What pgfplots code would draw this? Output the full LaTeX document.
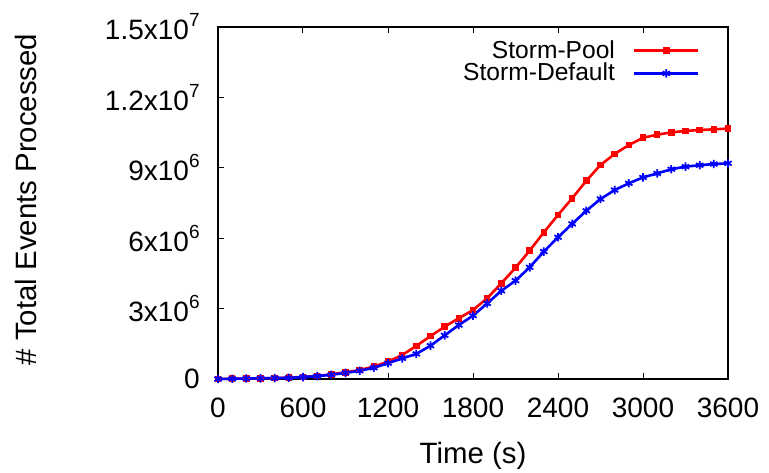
\documentclass[border=0pt]{standalone}
\usepackage{fontspec}
\setmainfont{Liberation Sans}
\usepackage{pgfplots}
\usepackage{pgfplotstable}
\pgfplotsset{compat=1.18}

% time (s), events processed
\pgfplotstableread{
t     pool      default
0     0         0
100   1e4       1e4
200   2e4       2e4
300   3e4       3e4
400   4e4       4e4
500   6e4       5e4
600   9e4       8e4
700   1.3e5     1.2e5
800   2.0e5     1.8e5
900   2.9e5     2.6e5
1000  3.8e5     3.5e5
1100  5.3e5     4.8e5
1200  7.4e5     6.7e5
1300  1.02e6    8.8e5
1400  1.41e6    1.07e6
1500  1.83e6    1.42e6
1600  2.23e6    1.86e6
1700  2.59e6    2.30e6
1800  2.94e6    2.70e6
1900  3.44e6    3.22e6
2000  4.08e6    3.76e6
2100  4.74e6    4.19e6
2200  5.47e6    4.76e6
2300  6.25e6    5.43e6
2400  6.99e6    6.04e6
2500  7.70e6    6.61e6
2600  8.45e6    7.17e6
2700  9.12e6    7.67e6
2800  9.59e6    8.05e6
2900  9.97e6    8.34e6
3000  1.028e7   8.59e6
3100  1.041e7   8.76e6
3200  1.051e7   8.94e6
3300  1.057e7   9.05e6
3400  1.061e7   9.11e6
3500  1.064e7   9.16e6
3600  1.067e7   9.19e6
}\events

\newcommand\ex[1]{\raisebox{6.5pt}{\fontsize{9.5}{9.5}\selectfont #1}}

\begin{document}
\begin{tikzpicture}
\begin{axis}[
    at={(0,0)}, anchor=south west,
    scale only axis,
    width=255pt, height=176pt,
    xmin=0, xmax=3600,
    ymin=0, ymax=1.5e7,
    xtick={0,600,...,3600},
    ytick={0,3e6,6e6,9e6,1.2e7,1.5e7},
    yticklabels={0,3x10\ex{6},6x10\ex{6},9x10\ex{6},1.2x10\ex{7},1.5x10\ex{7}},
    scaled ticks=false,
    xtick pos=both, ytick pos=left,
    xticklabel pos=lower,
    tick align=inside,
    major tick length=3pt,
    axis line style={line width=0.7pt},
    every tick/.style={black, line width=0.5pt},
    /pgf/number format/assume math mode=true,
    /pgf/number format/set thousands separator={},
    tick label style={font=\fontsize{14}{14}\selectfont},
    xticklabel style={anchor=base, inner sep=0pt, yshift=-19pt},
    yticklabel style={anchor=east, inner sep=0pt, xshift=-9pt},
    xlabel={Time (s)},
    ylabel={\# Total Events Processed},
    every axis x label/.style={at={(axis description cs:0.5,0)}, yshift=-42pt,
        anchor=base, font=\fontsize{14.7}{14.7}\selectfont},
    every axis y label/.style={at={(axis description cs:0,0.51)}, xshift=-90.5pt,
        rotate=90, anchor=base, font=\fontsize{14.7}{14.7}\selectfont},
    legend style={at={(rel axis cs:0.945,0.975)}, anchor=north east,
        draw=none, fill=none, font=\fontsize{12.3}{12.3}\selectfont,
        row sep=-3pt, column sep=7pt, inner sep=0pt},
    legend cell align=right,
    legend plot pos=right,
    legend image code/.code={\draw[mark repeat=2,mark phase=2] plot coordinates {(0pt,0pt)(16pt,0pt)(32pt,0pt)};},
    clip=false,
]
\addplot[red, line width=1.3pt, mark=square*, mark size=1pt] table[x=t, y=pool] {\events};
\addlegendentry{Storm-Pool}
\addplot[blue, line width=1.3pt, mark=asterisk, mark size=2.1pt, mark options={line width=0.9pt}] table[x=t, y=default] {\events};
\addlegendentry{Storm-Default}
\end{axis}
\pgfresetboundingbox
\path[use as bounding box] (-109pt,-46.5pt) rectangle (275.5pt,189.5pt);
\end{tikzpicture}
\end{document}
